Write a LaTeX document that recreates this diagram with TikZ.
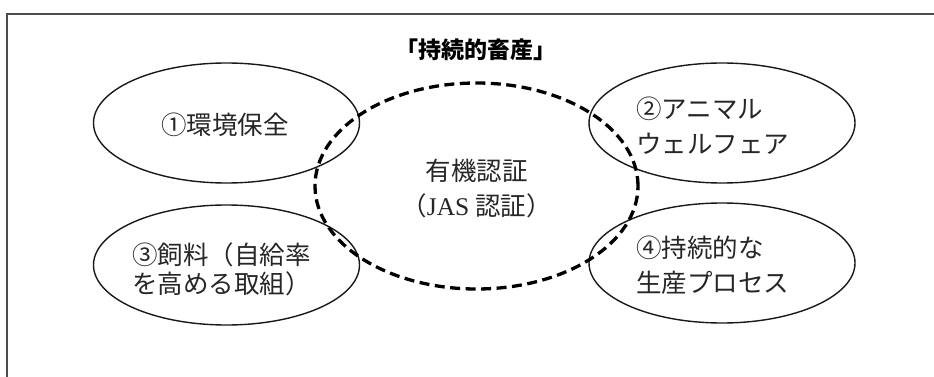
\documentclass[tikz,border=0pt]{standalone}
\usepackage{fontspec}
\usetikzlibrary{shapes.geometric}
\newfontfamily\jp{Noto Sans CJK JP}
\newfontfamily\latser{Liberation Serif}
\begin{document}
\begin{tikzpicture}[x=1pt,y=-1pt,
  oval/.style={ellipse,draw=black!90,line width=1.4pt,minimum width=266pt,minimum height=120pt,inner sep=0pt},
  core/.style={ellipse,draw=black,line width=3.3pt,dash pattern=on 10pt off 5.5pt,minimum width=323pt,minimum height=206pt,inner sep=0pt},
  lbl/.style={font=\jp\fontsize{25.5}{35}\selectfont,text=black!85,inner sep=0pt,align=left},
  frame/.style={draw=black!70,line width=1.4pt}]
\useasboundingbox (0,0) rectangle (934,377);
\coordinate (ftl) at (7,14);
\coordinate (ftr) at (934,14);
\coordinate (fbl) at (7,377);
\draw[frame] (ftr) -- (ftl) -- (fbl);
\node[font=\jp\bfseries\fontsize{23}{26}\selectfont,inner sep=0pt] (title) at (476,50) {「持続的畜産」};
\node[oval] (e1) at (226.5,123) {};
\node[oval] (e2) at (722,123) {};
\node[oval] (e3) at (226.5,265) {};
\node[oval] (e4) at (722,263) {};
\node[core] (c) at (476.5,186) {};
\node[lbl] (t1) at (225,125) {①環境保全};
\node[lbl,anchor=west] (t2) at (636,125.5) {②アニマル\\ウェルフェア};
\node[lbl,anchor=west,font=\jp\fontsize{25.5}{29}\selectfont] (t3) at (132,269.5) {③飼料（自給率\\を高める取組）};
\node[lbl,anchor=west] (t4) at (636,265.5) {④持続的な\\生産プロセス};
\node[lbl,align=center] (tc) at (476.5,189) {有機認証\\（{\latser JAS} 認証）};
\end{tikzpicture}
\end{document}
